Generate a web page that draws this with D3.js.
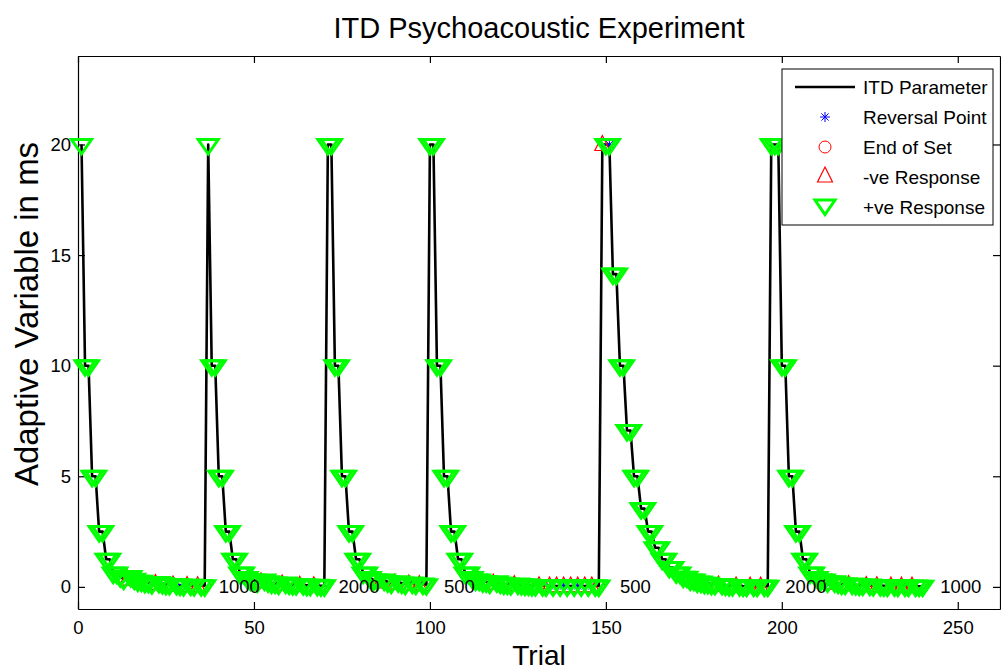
<!DOCTYPE html>
<html>
<head>
<meta charset="utf-8">
<script src="https://cdn.jsdelivr.net/npm/d3@7.9.0/dist/d3.min.js"></script>
<style>
  body { margin: 0; background: #fff; }
  svg { display: block; font-family: "Liberation Sans", Arial, sans-serif; }
  .axis path, .axis line { stroke: #000; stroke-width: 1.2; }
  .axis text { font-size: 18.5px; fill: #000; font-family: "Liberation Sans", Arial, sans-serif; }
</style>
</head>
<body>
<svg id="chart" width="1001" height="672"></svg>
<script>
// ITD value per trial, one array per set; each set starts at the listed trial
const setStarts = [1, 37, 71, 100, 149, 197];
const set1Values = [20, 10, 10, 5, 5, 2.5, 2.5, 1.25, 1.25, 0.625, 0.625, 0.47, 0.35, 0.35, 0.47, 0.35, 0.26, 0.26,
  0.2, 0.2, 0.15, 0.15, 0.2, 0.15, 0.11, 0.11, 0.08, 0.11, 0.08, 0.06, 0.06, 0.08, 0.06, 0.05, 0.06, 0.05];
const set2Values = [20, 10, 10, 5, 5, 2.5, 2.5, 1.25, 1.25, 0.625, 0.625, 0.42, 0.31, 0.31, 0.23, 0.23, 0.31,
  0.23, 0.17, 0.17, 0.13, 0.13, 0.17, 0.13, 0.1, 0.1, 0.07, 0.1, 0.07, 0.07, 0.05, 0.07, 0.05, 0.05];
const set3Values = [20, 20, 10, 10, 5, 5, 2.5, 2.5, 1.25, 1.25, 0.625, 0.625, 0.42, 0.31, 0.31, 0.23, 0.31,
  0.23, 0.17, 0.17, 0.23, 0.17, 0.13, 0.13, 0.17, 0.13, 0.1, 0.13, 0.1];
const set4Values = [20, 20, 10, 10, 5, 5, 2.5, 2.5, 1.25, 1.25, 0.625, 0.625, 0.42, 0.31, 0.31, 0.23, 0.23,
  0.17, 0.17, 0.23, 0.17, 0.13, 0.13, 0.1, 0.1, 0.13, 0.1, 0.08, 0.08, 0.06, 0.06, 0.05, 0.06, 0.05, 0.04,
  0.05, 0.04, 0.05, 0.04, 0.05, 0.04, 0.05, 0.04, 0.05, 0.04, 0.05, 0.04, 0.05, 0.04];
const set5Values = [20, 20, 20, 14.14, 14.14, 10, 10, 7.07, 7.07, 5, 5, 3.54, 3.54, 2.5, 2.5, 1.77, 1.77,
  1.25, 1.25, 0.88, 0.88, 0.63, 0.63, 0.44, 0.44, 0.31, 0.31, 0.22, 0.22, 0.16, 0.16, 0.11, 0.11, 0.08,
  0.11, 0.08, 0.06, 0.06, 0.04, 0.06, 0.04, 0.03, 0.03, 0.04, 0.03, 0.03, 0.04, 0.03];
const set6Values = [20, 20, 20, 10, 10, 5, 5, 2.5, 2.5, 1.25, 1.25, 0.625, 0.625, 0.42, 0.31, 0.31, 0.23,
  0.17, 0.23, 0.17, 0.13, 0.13, 0.1, 0.13, 0.1, 0.08, 0.08, 0.06, 0.08, 0.06, 0.05, 0.06, 0.05, 0.04, 0.04,
  0.05, 0.04, 0.03, 0.04, 0.03, 0.03, 0.04, 0.03, 0.03];

// trials with a negative response, reversal points, and set ends
const negTrials = [14, 22, 27, 31, 34, 52, 58, 63, 67, 86, 90, 94, 97, 118, 124, 131, 134, 136, 138, 140,
  142, 144, 146, 149, 182, 187, 191, 194, 214, 219, 224, 227, 231, 234, 237];
const reversalTrials = [14, 15, 22, 23, 27, 28, 31, 34, 52, 53, 58, 63, 67, 86, 90, 94, 97, 118, 124, 131,
  134, 138, 142, 146, 151, 182, 187, 191, 194, 214, 219, 224, 227, 231, 234, 237];
const endTrials = [36, 70, 99, 148, 196, 240];

// text labels written next to each set
const labelTrials = [40, 74, 104, 154, 201, 245];
const labelTexts = ['1000', '2000', '500', '500', '2000', '1000'];

const xTicks = [0, 50, 100, 150, 200, 250];
const yTicks = [0, 5, 10, 15, 20];

const sets = [set1Values, set2Values, set3Values, set4Values, set5Values, set6Values];
const data = [];
sets.forEach((vals, s) => {
  vals.forEach((v, i) => data.push({ trial: setStarts[s] + i, value: v }));
});
const byTrial = new Map(data.map((d) => [d.trial, d]));

const svg = d3.select('#chart');
const plotL = 78, plotR = 1000, plotT = 56, plotB = 609;

const x = d3.scaleLinear().domain([0, 262]).range([plotL, plotR]);
const y = d3.scaleLinear().domain([-1, 24]).range([plotB, plotT]);

// axes, MATLAB style with inward ticks and a full box
svg.append('g').attr('class', 'axis')
  .attr('transform', `translate(0,${plotB})`)
  .call(d3.axisBottom(x).tickValues(xTicks).tickSize(-7).tickPadding(12).tickSizeOuter(0));
svg.append('g').attr('class', 'axis')
  .attr('transform', `translate(0,${plotT})`)
  .call(d3.axisTop(x).tickValues(xTicks).tickSize(-7).tickFormat('').tickSizeOuter(0));
svg.append('g').attr('class', 'axis')
  .attr('transform', `translate(${plotL},0)`)
  .call(d3.axisLeft(y).tickValues(yTicks).tickSize(-7).tickPadding(7).tickSizeOuter(0));
svg.append('g').attr('class', 'axis')
  .attr('transform', `translate(${plotR},0)`)
  .call(d3.axisRight(y).tickValues(yTicks).tickSize(-7).tickFormat('').tickSizeOuter(0));

const line = d3.line().x((d) => x(d.trial)).y((d) => y(d.value));
svg.append('path')
  .datum(data)
  .attr('d', line)
  .attr('fill', 'none')
  .attr('stroke', '#000')
  .attr('stroke-width', 2.6)
  .attr('stroke-linejoin', 'round');

const star = 'M-5,0L5,0M0,-5L0,5M-3.6,-3.6L3.6,3.6M-3.6,3.6L3.6,-3.6';
const triUp = 'M0,-9L7.5,6L-7.5,6Z';
const triDown = 'M-10,-5L10,-5L0,9.5Z';

svg.append('g').selectAll('path')
  .data(reversalTrials.map((t) => byTrial.get(t)))
  .join('path')
  .attr('d', star)
  .attr('transform', (d) => `translate(${x(d.trial)},${y(d.value)})`)
  .attr('stroke', '#0000ff')
  .attr('stroke-width', 1);

svg.append('g').selectAll('circle')
  .data(endTrials.map((t) => byTrial.get(t)))
  .join('circle')
  .attr('cx', (d) => x(d.trial))
  .attr('cy', (d) => y(d.value))
  .attr('r', 6)
  .attr('fill', 'none')
  .attr('stroke', '#ff0000');

svg.append('g').selectAll('path')
  .data(negTrials.map((t) => byTrial.get(t)))
  .join('path')
  .attr('d', triUp)
  .attr('transform', (d) => `translate(${x(d.trial)},${y(d.value)})`)
  .attr('fill', 'none')
  .attr('stroke', '#ff0000')
  .attr('stroke-width', 1.2);

svg.append('g').selectAll('path')
  .data(data.filter((d) => !negTrials.includes(d.trial)))
  .join('path')
  .attr('d', triDown)
  .attr('transform', (d) => `translate(${x(d.trial)},${y(d.value)})`)
  .attr('fill', 'none')
  .attr('stroke', '#00ff00')
  .attr('stroke-width', 3);

svg.append('g').selectAll('text')
  .data(labelTexts)
  .join('text')
  .attr('x', (d, i) => x(labelTrials[i]))
  .attr('y', y(0))
  .attr('dy', '0.35em')
  .attr('font-size', 18.5)
  .text((d) => d);

// titles
svg.append('text')
  .attr('x', (plotL + plotR) / 2).attr('y', 38)
  .attr('text-anchor', 'middle').attr('font-size', 29)
  .text('ITD Psychoacoustic Experiment');
svg.append('text')
  .attr('x', (plotL + plotR) / 2).attr('y', 665)
  .attr('text-anchor', 'middle').attr('font-size', 28)
  .text('Trial');
svg.append('text')
  .attr('transform', `translate(38,314) rotate(-90)`)
  .attr('text-anchor', 'middle').attr('font-size', 33)
  .text('Adaptive Variable in ms');

// legend
const legendNames = ['ITD Parameter', 'Reversal Point', 'End of Set', '-ve Response', '+ve Response'];
const lg = svg.append('g').attr('transform', 'translate(782,69)');
lg.append('rect').attr('width', 211).attr('height', 156)
  .attr('fill', '#fff').attr('stroke', '#000').attr('stroke-width', 1);
legendNames.forEach((name, i) => {
  const cy = 18 + i * 30;
  const g = lg.append('g').attr('transform', `translate(0,${cy})`);
  if (i === 0) {
    g.append('line').attr('x1', 13).attr('x2', 73).attr('stroke', '#000').attr('stroke-width', 2.6);
  } else if (i === 1) {
    g.append('path').attr('d', star).attr('transform', 'translate(43,0)').attr('stroke', '#0000ff');
  } else if (i === 2) {
    g.append('circle').attr('cx', 43).attr('r', 6).attr('fill', 'none').attr('stroke', '#ff0000');
  } else if (i === 3) {
    g.append('path').attr('d', triUp).attr('transform', 'translate(43,-1)')
      .attr('fill', 'none').attr('stroke', '#ff0000').attr('stroke-width', 1.2);
  } else {
    g.append('path').attr('d', triDown).attr('transform', 'translate(43,-2)')
      .attr('fill', 'none').attr('stroke', '#00ff00').attr('stroke-width', 3);
  }
  g.append('text').attr('x', 81).attr('dy', '0.35em').attr('font-size', 19).text(name);
});
</script>
</body>
</html>
